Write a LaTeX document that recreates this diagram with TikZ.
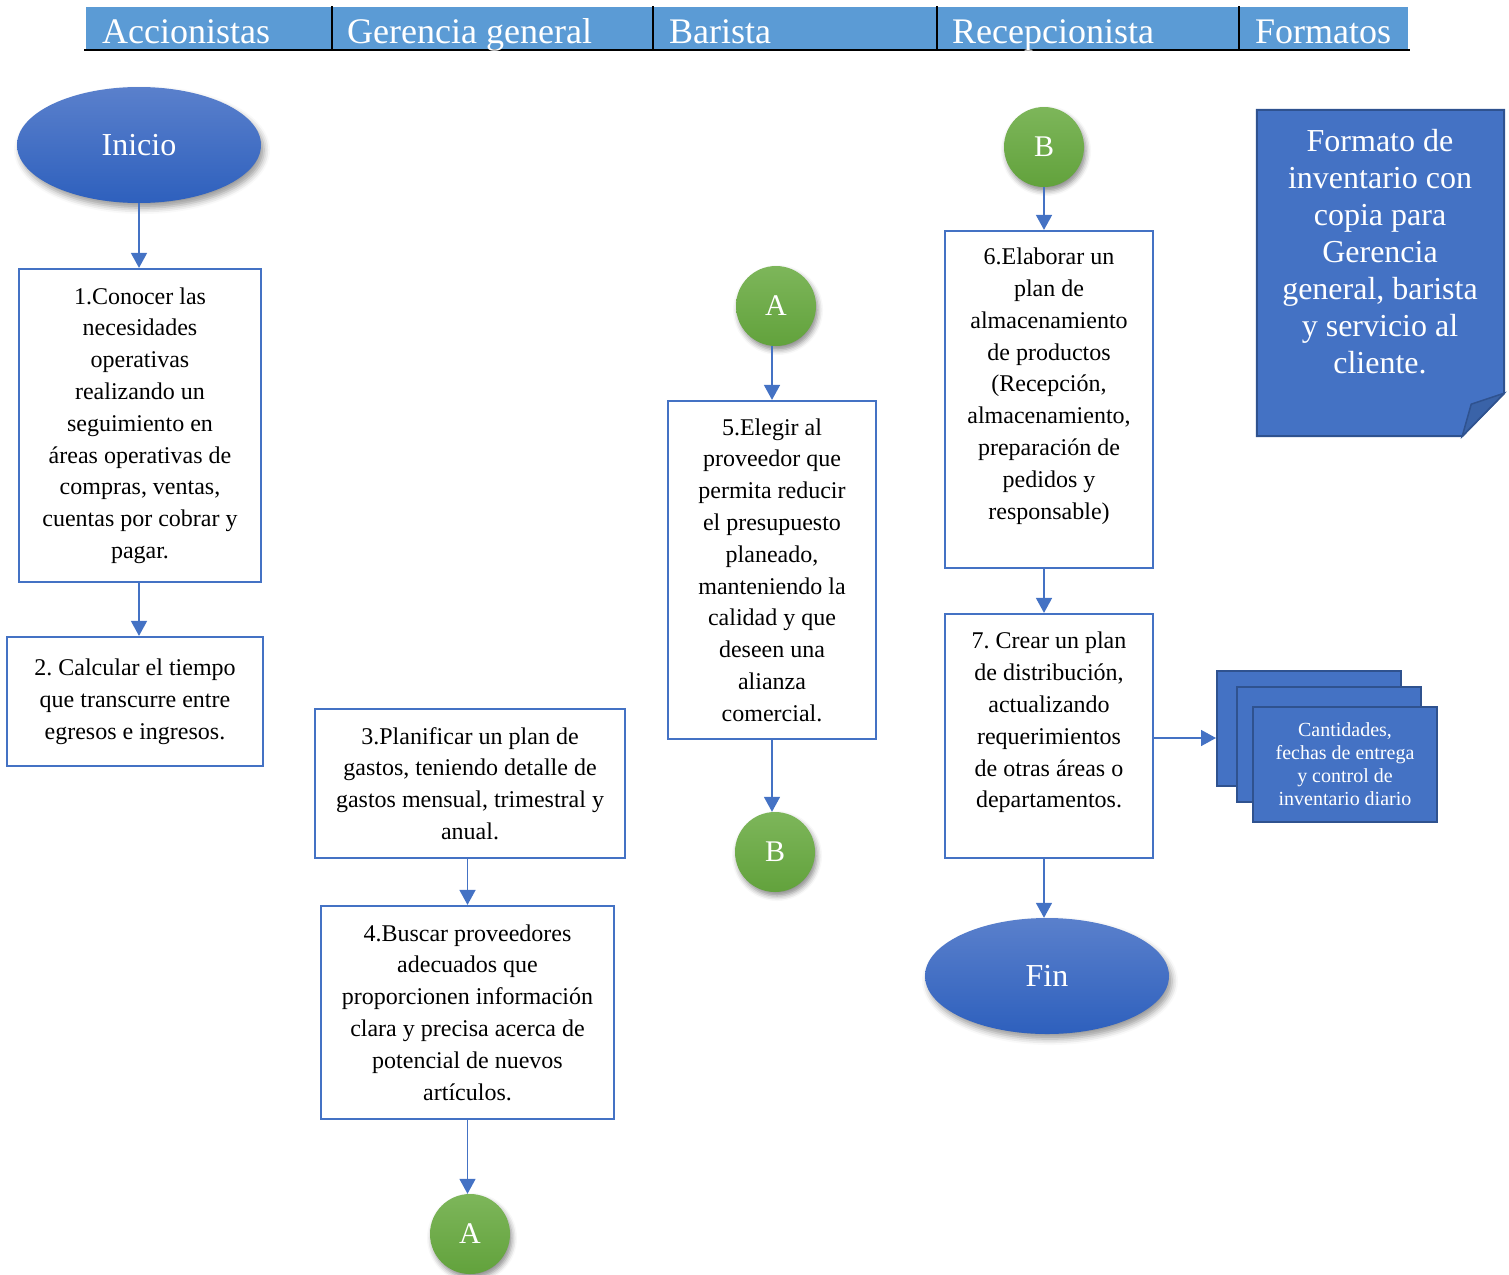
\documentclass[tikz,border=0pt]{standalone}
\usepackage{fontspec}
\setmainfont{Liberation Serif}
\frenchspacing
\usetikzlibrary{arrows.meta,shadows.blur,calc,shapes.geometric}
\definecolor{hdrblue}{HTML}{5B9BD5}
\definecolor{accblue}{HTML}{4472C4}
\definecolor{deepblue}{HTML}{2F528F}
\definecolor{foldblue}{HTML}{3A63A8}
\definecolor{elltop}{HTML}{5A80CC}
\definecolor{ellbot}{HTML}{2E60BD}
\definecolor{gtop}{HTML}{7DB65A}
\definecolor{gbot}{HTML}{62A23C}
\tikzset{
  lanetext/.style={anchor=base west, text=white, font=\fontsize{36}{40}\selectfont, inner sep=0pt},
  stepbox/.style={draw=accblue, line width=2.2pt, fill=white, align=center,
    font=\fontsize{24}{31.8}\selectfont, inner sep=0pt},
  terminal/.style={ellipse, minimum width=244pt, minimum height=116pt, inner sep=0pt,
    top color=elltop, bottom color=ellbot, text=white, font=\fontsize{32}{36}\selectfont,
    blur shadow={shadow xshift=3pt, shadow yshift=-5pt, shadow blur radius=6pt, shadow opacity=40}},
  connector/.style={circle, minimum size=80pt, inner sep=0pt,
    top color=gtop, bottom color=gbot, text=white, font=\fontsize{30}{34}\selectfont,
    blur shadow={shadow xshift=2pt, shadow yshift=-4pt, shadow blur radius=5pt, shadow opacity=45}},
  docsheet/.style={draw=deepblue, line width=2pt, fill=accblue, minimum width=184pt,
    minimum height=115pt, inner sep=0pt},
  flow/.style={draw=accblue, line width=1.6pt, -{Triangle[length=15pt,width=16pt]}},
}
\begin{document}
\begin{tikzpicture}[x=1pt,y=-1pt]
\useasboundingbox (0,0) rectangle (1509,1274);

% lane header
\fill[hdrblue] (86,7) rectangle (1408,50);
\foreach \sx in {332,653,937,1239} \draw[line width=2pt] (\sx,6) -- (\sx,50);
\draw[line width=2.6pt] (84,50) -- (1410,50);
\node[lanetext] (laneA) at (102,43) {Accionistas};
\node[lanetext] (laneG) at (347,43) {Gerencia general};
\node[lanetext] (laneB) at (669,43) {Barista};
\node[lanetext] (laneR) at (952,43) {Recepcionista};
\node[lanetext] (laneF) at (1255,43) {Formatos};

% terminals
\node[terminal] (inicio) at (139,145) {Inicio};
\node[terminal] (fin) at (1047,976) {Fin};

% process steps
\node[stepbox, minimum width=242pt, minimum height=313pt] (s1) at (140,425.5)
  {1.Conocer las\\necesidades\\operativas\\realizando un\\seguimiento en\\áreas operativas de\\compras, ventas,\\cuentas por cobrar y\\pagar.};
\node[stepbox, minimum width=256pt, minimum height=129pt] (s2) at (135,701.5)
  {2. Calcular el tiempo\\que transcurre entre\\egresos e ingresos.};
\node[stepbox, minimum width=310pt, minimum height=149pt] (s3) at (470,783.5)
  {3.Planificar un plan de\\gastos, teniendo detalle de\\gastos mensual, trimestral y\\anual.};
\node[stepbox, minimum width=293pt, minimum height=213pt] (s4) at (467.5,1012.5)
  {4.Buscar proveedores\\adecuados que\\proporcionen información\\clara y precisa acerca de\\potencial de nuevos\\artículos.};
\node[stepbox, minimum width=208pt, minimum height=338pt] (s5) at (772,570)
  {5.Elegir al\\proveedor que\\permita reducir\\el presupuesto\\planeado,\\manteniendo la\\calidad y que\\deseen una\\alianza\\comercial.};
\node[stepbox, minimum width=208pt, minimum height=337pt] (s6) at (1049,399.5)
  {6.Elaborar un\\plan de\\almacenamiento\\de productos\\(Recepción,\\almacenamiento,\\preparación de\\pedidos y\\responsable)\\\mbox{}};
\node[stepbox, minimum width=208pt, minimum height=244pt] (s7) at (1049,736)
  {7. Crear un plan\\de distribución,\\actualizando\\requerimientos\\de otras áreas o\\departamentos.\\\mbox{}};

% off-page connectors
\node[connector] (a1) at (470,1234) {A};
\node[connector] (a2) at (776,306) {A};
\node[connector] (b1) at (775,852) {B};
\node[connector] (b2) at (1044,147) {B};

% multi-document output
\node[docsheet] (d1) at (1309,728.5) {};
\node[docsheet] (d2) at (1329,744.5) {};
\node[docsheet, align=center, text=white, font=\fontsize{20}{23}\selectfont] (d3) at (1345,764)
  {Cantidades,\\fechas de entrega\\y control de\\inventario diario};

% inventory form document with folded corner
\node[minimum width=247pt, minimum height=326pt, inner sep=0pt] (formato) at (1380.5,273) {};
\path[fill=accblue, draw=deepblue, line width=2pt]
  (formato.north west) -- (formato.north east) -- ($(formato.south east)+(0,-43)$)
  -- ($(formato.south east)+(-42,0)$) -- (formato.south west) -- cycle;
\path[fill=foldblue, draw=deepblue, line width=1.5pt]
  ($(formato.south east)+(-42,0)$) -- ($(formato.south east)+(-33,-32)$)
  -- ($(formato.south east)+(0,-43)$) -- cycle;
\node[align=center, text=white, font=\fontsize{32}{37}\selectfont] (formatotxt) at (1380,251.5)
  {Formato de\\inventario con\\copia para\\Gerencia\\general, barista\\y servicio al\\cliente.};

% flow
\coordinate (s7out) at ($(s7.east)+(0,2)$);
\draw[flow] (inicio.south) -- (inicio.south |- s1.north);
\draw[flow] (s1.south -| inicio.south) -- (inicio.south |- s2.north);
\draw[flow] (s3.south -| s4.north) -- (s4.north);
\draw[flow] (s4.south) -- (s4.south |- a1.north);
\draw[flow] (a2.south -| s5.north) -- (s5.north);
\draw[flow] (s5.south) -- (s5.south |- b1.north);
\draw[flow] (b2.south) -- (b2.south |- s6.north);
\draw[flow] (s6.south -| b2.south) -- (s7.north -| b2.south);
\draw[flow] (s7.south -| b2.south) -- (fin.north -| b2.south);
\draw[flow] (s7out) -- (s7out -| d1.west);
\end{tikzpicture}
\end{document}
